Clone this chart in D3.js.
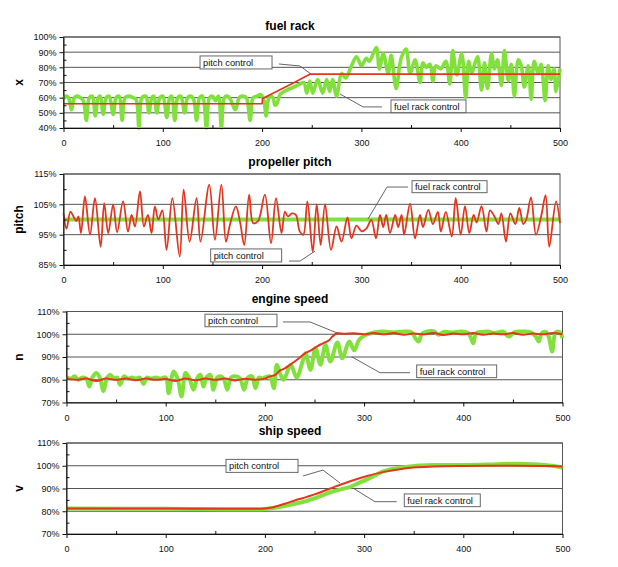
<!DOCTYPE html>
<html><head><meta charset="utf-8">
<script src="https://cdn.jsdelivr.net/npm/d3@7"></script>
<style>
body{margin:0;background:#fff}
svg{display:block}
text{font-family:"Liberation Sans",Arial,Helvetica,sans-serif}
</style>
</head><body>
<svg id="c" width="618" height="567"></svg>
<script>
// ---------------- DATA ----------------
const timeTicks = [0, 100, 200, 300, 400, 500];
const timeMinor = [50, 150, 250, 350, 450];

const titles = ["fuel rack", "propeller pitch", "engine speed", "ship speed"];
const yLabels = ["x", "pitch", "n", "v"];
const seriesNames = ["pitch control", "fuel rack control"];

const fuelRackTicks = [40, 50, 60, 70, 80, 90, 100];
const pitchTicks = [85, 95, 105, 115];
const engineTicks = [70, 80, 90, 100, 110];
const shipTicks = [70, 80, 90, 100, 110];

// fuel rack x [%] vs time
const fuelRackPitchCtrl = [[0,56],[200,56],[200.5,59.5],[231,69.5],[248,75.5],[500,75.5]];
const fuelRackFuelCtrl = [[0,59],[2,61],[5,60],[8,52],[11,60],[14,61],[17,60],[20,58],[23,45],[26,60],[29,61],[32,48],[35,60],[37,61],[40,49],[43,60],[46,61],[50,49],[53,60],[56,61],[59,45],[62,60],[66,61],[70,60],[73,59],[76,40],[79,60],[83,61],[86,50],[89,60],[91,61],[94,50],[97,60],[100,61],[104,47],[107,60],[109,61],[112,45],[115,60],[118,61],[122,50],[125,60],[128,61],[131,59],[134,45],[137,60],[140,61],[144,40],[147,60],[150,61],[153,58],[156,61],[159,40],[162,60],[165,61],[168,59],[173,52],[177,60],[180,61],[184,60],[188,45],[191,60],[195,61],[198,62],[200,61],[202,58],[204,48],[206,58],[208,61],[211,60],[213,55],[215,56],[218,62],[225,65],[232,67],[238,69],[242,70],[245,63],[248,71],[251,63],[256,72],[261,63],[265,72],[268,64],[271,72],[275,61],[280,76],[284,73],[290,81],[295,87],[300,81],[305,86],[308,84],[315,93],[318,79],[322,89],[327,76],[330,88],[335,66],[340,86],[345,92],[349,76],[354,85],[359,70],[362,83],[365,80],[369,82],[372,71],[375,81],[380,79],[385,84],[389,69],[392,91],[396,75],[401,89],[405,60],[408,84],[411,76],[414,82],[417,87],[421,65],[424,83],[427,66],[431,89],[434,79],[437,85],[441,68],[444,91],[448,71],[451,82],[454,61],[458,85],[461,81],[464,67],[468,81],[471,59],[474,84],[478,76],[481,82],[485,58],[488,81],[491,72],[494,79],[496,64],[500,79]];

// propeller pitch [%]
const pitchFuelCtrl = [[0,100],[500,100]];
const pitchPitchCtrl = [[0,102],[3,97],[7,102.6],[10,101],[13,99.5],[15,101],[17.6,95.5],[21.6,107.6],[26.7,95],[31.7,107],[37.4,91],[41,105.4],[45,95.5],[50,105],[54,95.8],[60,106],[65,96],[68.6,101.5],[72,97.7],[77,109.3],[81,97.7],[85,101.5],[88.7,95.5],[92,104.3],[95.5,100],[99.5,103],[103.8,90],[109.6,107],[117,87.8],[121,109.8],[127,92.7],[134,107],[138,92.7],[146.8,111.5],[152.5,93.3],[159,111.5],[163.6,92.7],[167.6,98.3],[173.6,104.3],[178,98.8],[182,91.6],[187,108.2],[191,98.8],[196,99.5],[202.8,108.2],[209,92.2],[214,107],[219.6,95.5],[223,102.6],[226,101],[230,102],[234,101.5],[238,96],[241.5,95],[245.6,106],[251,89.4],[255,105],[259,91.6],[263.4,105],[269.4,90],[275,97.7],[280,92.7],[286,100.7],[290,93.8],[295,98],[300.3,96.1],[305,97],[310,99.9],[314.7,93.8],[318.7,101.5],[322,97.5],[325,101.5],[328.8,95.5],[334,101.5],[337,97.5],[340.5,101.5],[343,95],[349,105.2],[354,93.8],[359,101.5],[362,97.5],[367.4,103.2],[372,98.5],[377,102.5],[380,96],[385,102.5],[391,94.4],[395,107],[400,95],[404.3,104.4],[408.7,95.5],[413,101.5],[416,99],[421,104.4],[426,96],[429.5,103],[434,101],[438,98.5],[441,102],[445.6,92.7],[450,102],[455,98.5],[459,103.8],[463,98.5],[466,100],[470.8,107.3],[475.8,95],[481,101],[485.5,108],[489.2,91],[496,106],[500,98.8]];

// engine speed n [%]
const enginePitchCtrl = [[0,80.5],[10,80],[20,80.5],[30,79.5],[40,80.5],[50,80],[60,80.5],[70,79.8],[80,80.5],[90,80],[100,80.3],[110,79.5],[120,80.5],[130,79.8],[140,80.5],[150,80],[160,80.5],[170,79.7],[180,80.4],[190,80],[200,80.5],[205,81.5],[210,82],[215,84],[220,85],[225,86.5],[230,88],[236,90],[240,91.5],[246,92.8],[252,94.5],[256,95.5],[261,96.5],[265,97.5],[268,99],[273,100.4],[280,100.2],[290,100.4],[300,100],[310,100.5],[320,100],[330,100.5],[340,99.8],[350,100.3],[360,100],[370,100.5],[380,99.7],[390,100.3],[400,100],[410,100.5],[420,99.8],[430,100.3],[440,100],[450,100.5],[460,99.8],[470,100.3],[480,100],[490,100.5],[500,100]];
const engineFuelCtrl = [[0,81],[5,80.5],[8,81.5],[12,80],[16,81],[20,80.5],[23,77],[26,81],[30,83],[34,80.5],[37,75],[41,81],[44,82.2],[48,80.5],[51,81],[54,77.8],[58,81.5],[62,80.5],[66,81],[70,80.5],[74,81],[77.6,78.2],[81,81],[85,80.5],[90,81],[95,80.5],[100,81],[103,74.1],[106,81],[108,83.6],[112,80.5],[116,72.7],[120,83],[124,80.5],[128,75.6],[132,81],[135,82.2],[138,77],[141,81],[145,82.2],[148,75.6],[152,81],[156,81.5],[159,80],[162,75.6],[166,81],[170,81.5],[175,80.5],[179,75.6],[183,81],[187,81.5],[190.5,76.3],[194,81],[198,80.5],[200,81],[205,81.5],[209,76.3],[212,86.6],[216,82],[219,80],[226,86.6],[232,81],[238,88],[241,91.7],[246,84.4],[251,94],[256,86.6],[261,95.4],[266,88],[273,96.4],[278,89.5],[285,96.8],[290,93],[295,97.6],[302,99.8],[310,100.8],[320,101.2],[330,100.8],[340,101.2],[348,100.8],[352,98],[355,96.8],[358,100],[362,101],[370,101.3],[375,99.8],[380,101],[390,100.8],[398,101.2],[405,100.5],[408,98],[410,96],[413,100.5],[418,101],[425,101.2],[432,100.5],[440,101.2],[446,99],[452,101],[460,101.2],[468,100.8],[473,99],[476,96.8],[479,100.5],[483,101],[486,99],[489.6,92.4],[493,100.8],[497,101],[500,98.3]];

// ship speed v [%]
const shipPitchCtrl = [[0,81.2],[100,81.2],[200,81.2],[205,81.5],[210,82],[220,83.3],[230,84.7],[240,86],[250,87.4],[260,89],[270,90.7],[286,93.2],[303,95.5],[320,97.3],[336,98.5],[353,99.3],[370,99.7],[400,99.9],[450,100],[480,99.9],[500,99.7]];
const shipFuelCtrl = [[0,81.2],[100,81.1],[200,81],[210,81.5],[220,82.3],[230,83.3],[240,84.2],[252,86],[269,88.8],[286,90.7],[295,92.5],[303,94],[312,96],[320,97.6],[336,99.1],[353,100],[370,100.3],[400,100.3],[430,100.6],[454,100.9],[470,100.7],[490,100],[500,99.2]];

// ---------------- LAYOUT / STYLE ----------------
const GREEN = "#82e03c", RED = "#e4361f";
const panels = [
  {title:titles[0], ylab:yLabels[0], left:63.5, right:560, top:37, bottom:128, ydom:[40,100], ticks:fuelRackTicks,
   titleY:30, fuel:fuelRackFuelCtrl, pitch:fuelRackPitchCtrl, fuelW:3.6, pitchW:1.7, pitchCurve:d3.curveLinear,
   callouts:[
     {text:seriesNames[0], box:[137.5,87.5], w:72, h:13, pts:[[217,82.2],[238,80.9],[249.3,75.6]]},
     {text:seriesNames[1], box:[329.8,58.5], w:75, h:12.7, pts:[[320.7,53.9],[301.6,53.9],[278.5,62.4]]}]},
  {title:titles[1], ylab:yLabels[1], left:63.5, right:560, top:174, bottom:265, ydom:[85,115], ticks:pitchTicks,
   titleY:166, fuel:pitchFuelCtrl, pitch:pitchPitchCtrl, fuelW:4, pitchW:1.8, pitchCurve:d3.curveCatmullRom.alpha(0.5),
   callouts:[
     {text:seriesNames[1], box:[351,112.8], w:75, h:12, pts:[[347,110.7],[325.8,110.7],[306.7,100.2]]},
     {text:seriesNames[0], box:[148.2,90.3], w:71, h:13, pts:[[227.1,86.3],[238.2,86.3],[253.3,89.6]]}]},
  {title:titles[2], ylab:yLabels[2], left:66.5, right:562.5, top:311.5, bottom:402.5, ydom:[70,110], ticks:engineTicks,
   titleY:303, fuel:engineFuelCtrl, pitch:enginePitchCtrl, fuelW:4, pitchW:2, pitchCurve:d3.curveCatmullRom.alpha(0.5),
   callouts:[
     {text:seriesNames[0], box:[139.6,108.8], w:72, h:12.5, pts:[[218.2,105.4],[245.5,105.4],[273.7,100.4]]},
     {text:seriesNames[1], box:[353,86.5], w:80, h:12.7, pts:[[346.3,83.1],[316,83.1],[287.5,90.1]]}]},
  {title:titles[3], ylab:yLabels[3], left:66.5, right:562.5, top:443, bottom:534, ydom:[70,110], ticks:shipTicks,
   titleY:435, fuel:shipFuelCtrl, pitch:shipPitchCtrl, fuelW:4, pitchW:2, pitchCurve:d3.curveCatmullRom.alpha(0.5),
   callouts:[
     {text:seriesNames[0], box:[160.8,102.8], w:72, h:13, pts:[[238.4,95.5],[258.6,98.1],[275.7,92.4]]},
     {text:seriesNames[1], box:[340.5,87.6], w:76, h:12.7, pts:[[332.9,84.2],[311,84.2],[289.1,90.1]]}]}
];

const svg = d3.select("#c");

panels.forEach(p => {
  const x = d3.scaleLinear().domain([0, 500]).range([p.left, p.right]);
  const y = d3.scaleLinear().domain(p.ydom).range([p.bottom, p.top]);
  const g = svg.append("g");

  // gridlines
  g.selectAll("line.grid").data(p.ticks.slice(1)).join("line")
    .attr("x1", p.left).attr("x2", p.right)
    .attr("y1", d => y(d)).attr("y2", d => y(d))
    .attr("stroke", "#555").attr("stroke-width", 1);
  // plot border
  g.append("rect").attr("x", p.left).attr("y", p.top)
    .attr("width", p.right - p.left).attr("height", p.bottom - p.top)
    .attr("fill", "none").attr("stroke", "#555").attr("stroke-width", 1);

  // series
  const fuelLine = d3.line().x(d => x(d[0])).y(d => y(d[1])).curve(d3.curveCatmullRom.alpha(0.5));
  const pitchLine = d3.line().x(d => x(d[0])).y(d => y(d[1])).curve(p.pitchCurve);
  g.append("path").datum(p.fuel).attr("d", fuelLine).attr("fill", "none")
    .attr("stroke", GREEN).attr("stroke-width", p.fuelW).attr("stroke-linejoin", "round");
  g.append("path").datum(p.pitch).attr("d", pitchLine).attr("fill", "none")
    .attr("stroke", RED).attr("stroke-width", p.pitchW).attr("stroke-linejoin", "round");

  // axes
  const minorY = d3.pairs(p.ticks).map(([a, b]) => (a + b) / 2);
  const yAx = g.append("g").attr("transform", `translate(${p.left},0)`)
    .call(d3.axisLeft(y).tickValues(p.ticks).tickFormat(d => d + "%").tickSize(4).tickPadding(3).tickSizeOuter(0));
  g.append("g").attr("transform", `translate(${p.left},0)`)
    .call(d3.axisLeft(y).tickValues(minorY).tickFormat("").tickSize(-3).tickSizeOuter(0))
    .select(".domain").remove();
  const xAx = g.append("g").attr("transform", `translate(0,${p.bottom})`)
    .call(d3.axisBottom(x).tickValues(timeTicks).tickSize(4).tickPadding(8).tickSizeOuter(0));
  g.append("g").attr("transform", `translate(0,${p.bottom})`)
    .call(d3.axisBottom(x).tickValues(timeMinor).tickFormat("").tickSize(-3).tickSizeOuter(0))
    .select(".domain").remove();
  g.selectAll(".domain").attr("stroke", "#111");
  g.selectAll(".tick line").attr("stroke", "#111");
  [yAx, xAx].forEach(a => a.selectAll("text").attr("font-size", 9)
    .attr("font-family", "'Liberation Sans', Arial, sans-serif").attr("fill", "#111"));

  // title
  g.append("text").attr("x", 290).attr("y", p.titleY).attr("text-anchor", "middle")
    .attr("font-size", 12).attr("font-weight", "bold").attr("fill", "#000").text(p.title);
  // y label
  g.append("text").attr("transform", `translate(23,${(p.top + p.bottom) / 2}) rotate(-90)`)
    .attr("text-anchor", "middle").attr("font-size", 12).attr("font-weight", "bold")
    .attr("fill", "#000").text(p.ylab);

  // callouts
  p.callouts.forEach(c => {
    g.append("path").datum(c.pts).attr("d", d3.line().x(d => x(d[0])).y(d => y(d[1])))
      .attr("fill", "none").attr("stroke", "#555").attr("stroke-width", 0.9);
    const bx = x(c.box[0]), by = y(c.box[1]);
    g.append("rect").attr("x", bx).attr("y", by).attr("width", c.w).attr("height", c.h)
      .attr("fill", "#fff").attr("stroke", "#666").attr("stroke-width", 1);
    g.append("text").attr("x", bx + 3).attr("y", by + c.h / 2 + 3.3)
      .attr("font-size", 9.3).attr("fill", "#111").text(c.text);
  });
});
</script>
</body></html>
